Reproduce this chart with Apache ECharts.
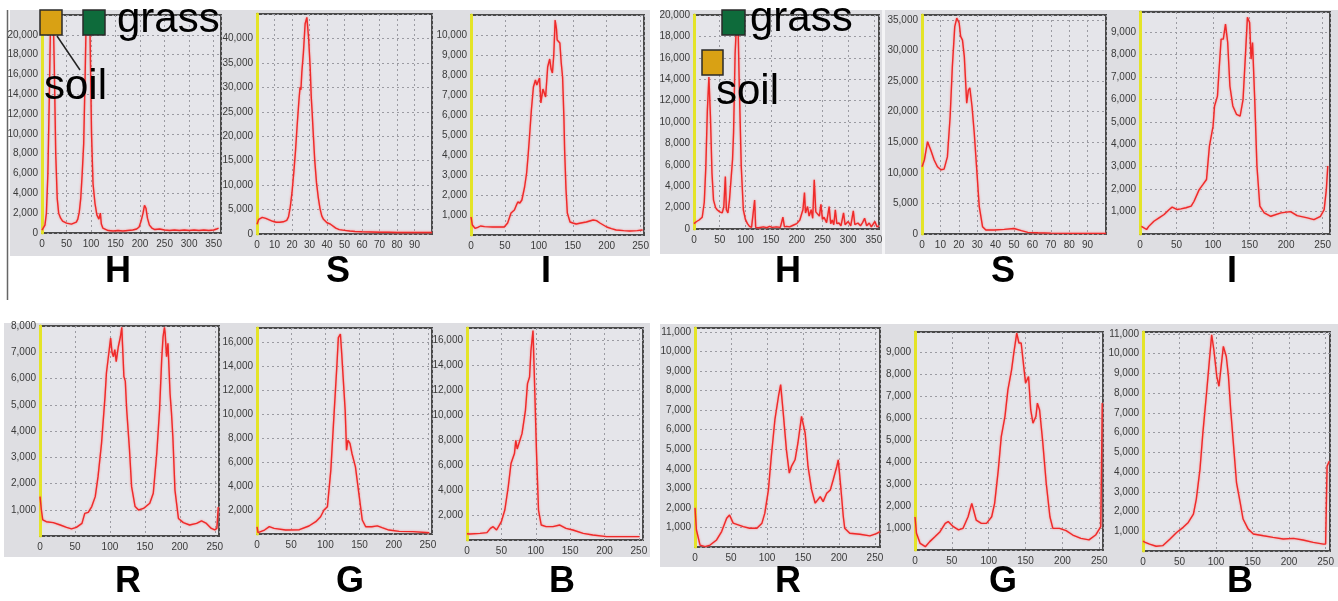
<!DOCTYPE html>
<html><head><meta charset="utf-8">
<script src="https://cdn.jsdelivr.net/npm/echarts@6/dist/echarts.min.js"></script>
<style>html,body{margin:0;padding:0;background:#fff}#c{width:1338px;height:601px}</style>
</head><body><div id="c"></div><script>
// ---- histogram values: [bin, count] ----
const hLeft = [[0,300],[3,400],[6,800],[9,2000],[12,6000],[15,14000],[18,23000],[22,24000],[25,17000],[28,8000],[31,3500],[34,2000],[38,1500],[42,1200],[46,1100],[50,1000],[55,950],[60,900],[65,1000],[70,1100],[73,1400],[76,2100],[79,3500],[82,6000],[85,9000],[88,16000],[91,24000],[95,24000],[98,20000],[101,10000],[104,5000],[108,3000],[112,1800],[116,1400],[119,2000],[121,900],[124,500],[128,300],[135,250],[145,200],[155,250],[165,200],[175,250],[185,300],[193,400],[198,600],[202,1200],[206,2000],[209,2800],[212,2500],[215,1500],[219,800],[224,500],[230,350],[240,400],[250,300],[260,250],[270,300],[280,250],[290,300],[300,250],[310,300],[320,250],[330,300],[340,250],[350,300],[356,400],[360,500]];
const sLeft = [[0,2000],[1,3000],[3,3400],[5,3200],[7,2900],[9,2600],[11,2400],[13,2400],[15,2500],[17,2800],[18,3500],[19,5500],[20,8500],[21,12500],[22,17000],[23,22500],[24,27500],[24.6,30000],[25.1,29500],[25.6,33000],[26.5,37000],[27.5,43000],[28.5,44300],[29.5,40000],[30.4,34000],[31,28000],[31.5,25000],[32,21500],[33,15000],[34,10500],[35,7500],[36,5200],[37,3700],[38,3000],[39,2600],[40,2300],[41,2100],[42,2000],[43,1700],[45,1200],[47,900],[49,800],[51,700],[53,600],[56,500],[60,450],[65,400],[70,350],[75,350],[80,300],[85,300],[90,300],[95,300],[100,300]];
const iLeft = [[0,900],[2,500],[6,330],[10,380],[14,450],[20,420],[32,400],[40,400],[49,400],[54,600],[59,1100],[64,1250],[67,1500],[69,1650],[72,1600],[75,1750],[79,2400],[82,3100],[84,3900],[86,4800],[89,6250],[92,7400],[95,7750],[97,7500],[98,7400],[101,7850],[103,6600],[106,7300],[108,7100],[110,6900],[113,8400],[116,8800],[118,8300],[120,8100],[122,9000],[124,10750],[126,10300],[127,9750],[129,9700],[131,9600],[133,8600],[135,7900],[137,5800],[138,4250],[140,2300],[142,1100],[146,650],[150,600],[155,550],[162,600],[170,650],[180,750],[185,720],[190,600],[200,400],[207,320],[214,250],[225,220],[234,200],[245,220],[253,250]];
const hRight = [[0,500],[5,700],[10,840],[16,1100],[20,2500],[23,5800],[26,11100],[29,14200],[32,10500],[35,5200],[38,2700],[42,2000],[45,1800],[50,1600],[55,1500],[58,2100],[61,4900],[63,1800],[66,1500],[69,2700],[72,4600],[75,6500],[77,9000],[80,16400],[83,19500],[85,21000],[88,13600],[92,5800],[96,1800],[100,900],[104,500],[108,250],[112,150],[115,120],[118,2700],[120,150],[126,120],[135,200],[142,120],[147,250],[152,150],[160,200],[168,150],[173,1100],[176,200],[180,250],[186,200],[193,350],[200,500],[206,840],[210,1500],[212,1800],[215,3400],[217,1500],[221,2100],[224,1200],[228,1800],[231,1000],[234,4600],[237,1600],[240,1500],[244,1200],[247,2300],[250,900],[253,1100],[258,600],[263,2100],[266,500],[269,840],[272,400],[275,1800],[278,500],[282,560],[286,300],[291,1500],[294,400],[300,700],[305,300],[310,1700],[313,400],[319,560],[324,300],[328,600],[332,1000],[336,300],[341,560],[345,200],[348,250],[352,700],[356,200],[360,300]];
const sRight = [[0,11000],[1.3,12100],[3,15100],[4.8,13700],[6.6,12100],[8.4,11000],[10.3,10500],[12,10600],[13.8,12600],[15.3,19200],[16.5,27400],[17.8,33900],[18.9,35300],[20.2,34500],[21,32300],[22,31700],[23,29000],[24.3,21400],[25.2,23500],[26,23900],[27.2,20800],[28.4,16500],[29.9,9900],[31.1,4500],[32.9,1200],[34.7,650],[39.2,650],[44.7,750],[50,900],[54,550],[57.5,270],[63,200],[70,150],[81,100],[90,100],[100,100]];
const iRight = [[2,340],[9,200],[12,340],[19,570],[26,720],[33,870],[40,1090],[44,1200],[51,1090],[56,1120],[63,1170],[70,1240],[74,1460],[81,1980],[86,2200],[91,2430],[95,3920],[100,4810],[102,5710],[106,6150],[108,7200],[111,8690],[114,8690],[117,9360],[120,8540],[123,6600],[127,5710],[132,5340],[137,5260],[141,5990],[144,7800],[147,9660],[150,9430],[152,7800],[154,8540],[157,5990],[160,3030],[164,1240],[170,940],[179,790],[193,940],[206,1000],[215,820],[229,720],[238,640],[247,790],[252,1090],[255,1980],[257,3030]];
const rLeft = [[0,1500],[2,990],[4,610],[9,545],[19,510],[29,420],[38,330],[45,270],[52,330],[60,480],[64,860],[69,900],[74,1120],[79,1500],[83,2260],[88,3530],[93,5310],[95,6210],[99,7090],[101,7540],[103,7000],[105,6830],[107,7100],[109,6640],[112,7210],[115,7590],[117,7950],[118,7300],[120,6070],[122,5900],[124,4800],[128,3280],[131,1880],[136,1120],[141,990],[148,1050],[157,1250],[162,1630],[167,3150],[171,4800],[174,6700],[176,7590],[178,7950],[179,7720],[181,6830],[183,7340],[186,5430],[188,4700],[190,3780],[193,1750],[198,670],[205,510],[214,420],[224,480],[231,580],[238,480],[245,290],[250,230],[253,300],[255,1100]];
const gLeft = [[0,600],[1.5,110],[11,330],[18,610],[25,470],[42,330],[62,360],[76,670],[86,1030],[93,1440],[98,2000],[103,2280],[108,5330],[113,10300],[117,14200],[119,16400],[122,16700],[124,15000],[126,13100],[129,10300],[131,7000],[133,7830],[136,7560],[139,6700],[144,5610],[149,3390],[154,1170],[159,610],[168,610],[176,680],[183,530],[193,330],[208,220],[228,200],[252,110]];
const bLeft = [[0,500],[4,480],[19,530],[29,590],[34,930],[38,1070],[43,800],[50,1470],[55,2400],[60,4270],[64,6130],[69,6930],[71,8000],[73,7300],[75,7200],[80,8530],[85,10400],[88,12540],[91,13070],[93,15200],[96,16800],[98,13070],[101,7200],[104,2400],[108,1200],[115,1070],[125,1070],[135,1200],[144,930],[154,800],[169,530],[183,400],[203,270],[227,270],[251,270]];
const rRight = [[0,2000],[2,870],[7,100],[14,20],[21,100],[30,360],[37,790],[44,1470],[48,1640],[53,1220],[60,1130],[67,1040],[76,960],[86,960],[93,1220],[97,1730],[102,2920],[106,4630],[111,6510],[116,7710],[119,8310],[123,6680],[127,4970],[131,3780],[134,4120],[139,4460],[143,5320],[148,6680],[153,5830],[157,4120],[162,2920],[167,2240],[174,2580],[178,2320],[183,2750],[188,2920],[192,3440],[197,4120],[199,4460],[202,3270],[206,1560],[208,960],[215,700],[229,650],[243,570],[252,680],[257,790]];
const gRight = [[0,1500],[2,760],[7,300],[14,150],[20,380],[27,600],[34,830],[41,1210],[45,1290],[52,1060],[59,910],[65,980],[72,1510],[77,2120],[79,2200],[83,1360],[90,1210],[97,1210],[104,1510],[108,2120],[113,3640],[117,5150],[122,6060],[126,7270],[131,8180],[134,8940],[138,9850],[141,9400],[144,9400],[148,8180],[150,7580],[154,7880],[157,6360],[160,5760],[164,6060],[166,6670],[169,6360],[173,5000],[178,3030],[183,1510],[187,980],[196,980],[205,880],[214,680],[225,530],[236,460],[245,680],[252,1060],[254,6670]];
const bRight = [[0,500],[3,440],[9,350],[18,240],[27,270],[37,610],[46,940],[55,1200],[62,1450],[69,1870],[73,2630],[78,4140],[82,6000],[87,8010],[91,9700],[94,10960],[97,10200],[101,8850],[104,8350],[107,9360],[110,10370],[114,9860],[117,8850],[120,7170],[124,5320],[128,3470],[133,2460],[137,1620],[144,1110],[151,860],[165,770],[178,690],[192,610],[206,640],[219,560],[233,440],[247,350],[250,350],[252,4300],[255,4550]];

const panelNames = ['H','S','I','H','S','I','R','G','B','R','G','B'];
const panelSeries = [hLeft,sLeft,iLeft,hRight,sRight,iRight,rLeft,gLeft,bLeft,rRight,gRight,bRight];
const legendNames = ['soil','grass'];

// ---- layout (pixels) and axis ranges ----
// [left, top, width, height, xMax, xInterval, yMax, yInterval, showY0, showYMax]
const layout = [
  [42,15,179,218, 365,50, 22000,2000, true,false],
  [257,14,175,220, 100,10, 45000,5000, true,false],
  [471,15,173,220, 255,50, 11000,1000, false,false],
  [694,15,185,214, 360,50, 20000,2000, true,true],
  [922,15,184,219, 100,10, 35800,5000, true,false],
  [1140,12,190,222, 260,50, 9900,1000, false,false],
  [40,326,179,210, 256,50, 8000,1000, false,true],
  [257,328,175,206, 256,50, 17200,2000, false,false],
  [467,328,176,212, 256,50, 17000,2000, false,false],
  [695,328,185,219, 257,50, 11200,1000, false,false],
  [915,332,188,218, 255,50, 9900,1000, false,false],
  [1143,332,187,219, 256,50, 11100,1000, false,false]
];
const labelPos = [[118,272],[338,272],[546,272],[788,272],[1003,272],[1232,272],
                  [128,582],[350,582],[562,582],[788,582],[1003,582],[1240,582]];

const fmt = v => String(v).replace(/\B(?=(\d{3})+(?!\d))/g, ',');
const grids=[], xAxes=[], yAxes=[], series=[];
layout.forEach((L,i)=>{
  grids.push({left:L[0],top:L[1],width:L[2],height:L[3],show:true,backgroundColor:'#e5e5ea',
    borderColor:'#4a4a4a',borderWidth:2,containLabel:false,outerBoundsMode:'none'});
  xAxes.push({type:'value',gridIndex:i,min:0,max:L[4],interval:L[5],
    axisLine:{show:false},axisTick:{show:false},
    axisLabel:{fontSize:10,color:'#3a3a3a',fontFamily:'Arial',margin:6,showMaxLabel:false,showMinLabel:true},
    splitLine:{show:true,lineStyle:{color:'#9b9ba2',type:[2,3],width:1}}});
  yAxes.push({type:'value',gridIndex:i,min:0,max:L[6],interval:L[7],
    axisLine:{show:true,onZero:false,lineStyle:{color:'#e4e428',width:3}},axisTick:{show:false},
    axisLabel:{fontSize:10,color:'#3a3a3a',fontFamily:'Arial',margin:4,formatter:fmt,
      showMinLabel:L[8],showMaxLabel:L[9]},
    splitLine:{show:true,lineStyle:{color:'#9b9ba2',type:[2,3],width:1}}});
  series.push({type:'line',xAxisIndex:i,yAxisIndex:i,data:panelSeries[i],showSymbol:false,
    clip:true,silent:true,
    lineStyle:{color:'#ee2a2a',width:1.4,shadowColor:'rgba(255,120,120,0.9)',shadowBlur:2}});
});

const graphics = [
  {type:'rect',shape:{x:10,y:10,width:640,height:246},style:{fill:'#dedee2'},z:-10},
  {type:'rect',shape:{x:4,y:323,width:646,height:234},style:{fill:'#dedee2'},z:-10},
  {type:'rect',shape:{x:660,y:10,width:678,height:244},style:{fill:'#dedee2'},z:-10},
  {type:'rect',shape:{x:660,y:324,width:678,height:243},style:{fill:'#dedee2'},z:-10},
  {type:'rect',shape:{x:882,y:10,width:3,height:244},style:{fill:'#f4f4f6'},z:-9},
  {type:'line',shape:{x1:7.5,y1:10,x2:7.5,y2:300},style:{stroke:'#666',lineWidth:1.5},z:-10}
];
panelNames.forEach((n,i)=>{
  graphics.push({type:'text',x:labelPos[i][0],y:labelPos[i][1],z:100,
    style:{text:n,fill:'#000',font:'bold 36px Arial, "Liberation Sans", sans-serif',align:'center',verticalAlign:'middle'}});
});
// legend annotations: soil / grass
function legendBox(x,y,w,h,fill){return {type:'rect',shape:{x:x,y:y,width:w,height:h},z:100,style:{fill:fill,stroke:'#2a2a2a',lineWidth:1.5}};}
function legendText(t,x,y){return {type:'text',x:x,y:y,z:100,style:{text:t,fill:'#000',font:'42px Arial, "Liberation Sans", sans-serif',align:'left',verticalAlign:'middle'}};}
graphics.push(
  legendBox(40,10,22,25,'#d9a114'), legendBox(83,10,22,25,'#0e6b3b'),
  legendText(legendNames[1],117,20), legendText(legendNames[0],44,87),
  {type:'line',z:100,shape:{x1:57,y1:36,x2:80,y2:70},style:{stroke:'#222',lineWidth:1.5}},
  legendBox(722,10,23,25,'#0e6b3b'), legendBox(702,50,21,25,'#d9a114'),
  legendText(legendNames[1],750,19), legendText(legendNames[0],716,92)
);

const chart = echarts.init(document.getElementById('c'),null,{renderer:'canvas'});
chart.setOption({animation:false,backgroundColor:'#ffffff',grid:grids,xAxis:xAxes,yAxis:yAxes,series:series,graphic:graphics});
</script></body></html>
